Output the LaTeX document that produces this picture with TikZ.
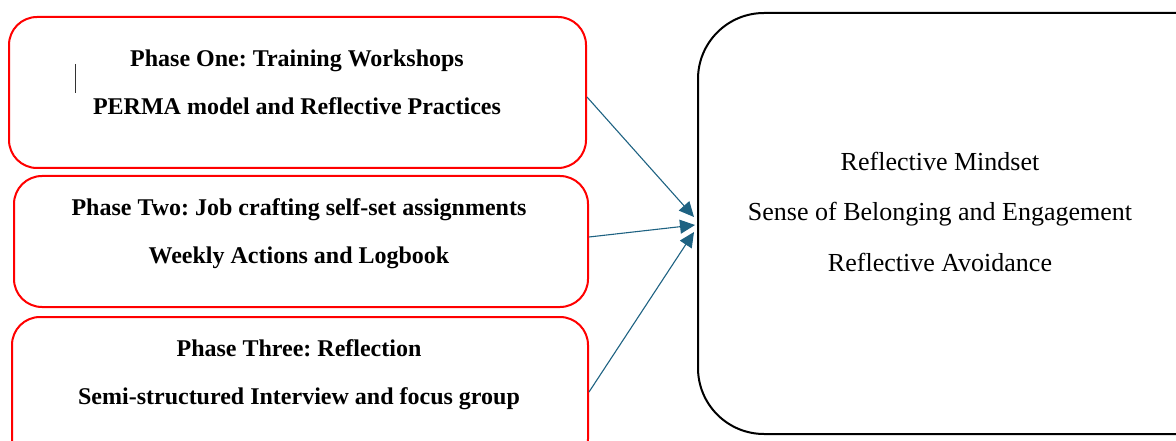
\documentclass[tikz,border=0pt]{standalone}
\usepackage{fontspec}
\setmainfont{Liberation Serif}
\frenchspacing
\usetikzlibrary{arrows.meta}
\definecolor{boxred}{RGB}{255,0,0}
\definecolor{arrowblue}{RGB}{30,98,130}
\tikzset{
  phasebox/.style={draw=boxred, line width=2pt, rounded corners=28pt},
  resultbox/.style={draw=black, line width=2pt, rounded corners=66pt},
  phasetext/.style={font=\fontsize{24}{28}\selectfont\bfseries, inner sep=0pt, anchor=base},
  resulttext/.style={font=\fontsize{26}{30}\selectfont, inner sep=0pt, anchor=base},
  flow/.style={draw=arrowblue, line width=1.1pt, -{Triangle[length=15pt,width=14pt]}}
}
\begin{document}
\begin{tikzpicture}[x=1pt,y=-1pt]
\useasboundingbox (0,0) rectangle (1176,441);
\begin{scope}
\clip (0,0) rectangle (1176,441);
% boxes
\node[phasebox, minimum width=577pt, minimum height=151pt, anchor=north west] (p1) at (8,16) {};
\node[phasebox, minimum width=574pt, minimum height=131pt, anchor=north west] (p2) at (13,175) {};
\node[phasebox, minimum width=576pt, minimum height=150pt, anchor=north west] (p3) at (11,316) {};
\node[resultbox, minimum width=560pt, minimum height=421pt, anchor=north west] (r) at (697,12) {};
\end{scope}
% texts
\node[phasetext] (t1a) at (297,67) {Phase One: Training Workshops};
\node[phasetext] (t1b) at (297,115) {PERMA model and Reflective Practices};
\node[phasetext] (t2a) at (299,215) {Phase Two: Job crafting self-set assignments};
\node[phasetext] (t2b) at (299,263) {Weekly Actions and Logbook};
\node[phasetext] (t3a) at (299,356) {Phase Three: Reflection};
\node[phasetext] (t3b) at (299,404) {Semi-structured Interview and focus group};
\node[resulttext] (r1) at (940,171) {Reflective Mindset};
\node[resulttext] (r2) at (940,221) {Sense of Belonging and Engagement};
\node[resulttext] (r3) at (940,271) {Reflective Avoidance};
% cursor mark
\coordinate (c1) at (75,64);
\coordinate (c2) at (75,93);
\draw[line width=0.8pt, black!80] (c1) -- (c2);
% arrows
\coordinate (e1) at (694,217);
\coordinate (e2) at (695,225);
\coordinate (e3) at (694,232);
\draw[flow] (p1.east |- 0,97) -- (e1);
\draw[flow] (p2.east |- 0,237) -- (e2);
\draw[flow] (p3.east |- 0,392) -- (e3);
\end{tikzpicture}
\end{document}
